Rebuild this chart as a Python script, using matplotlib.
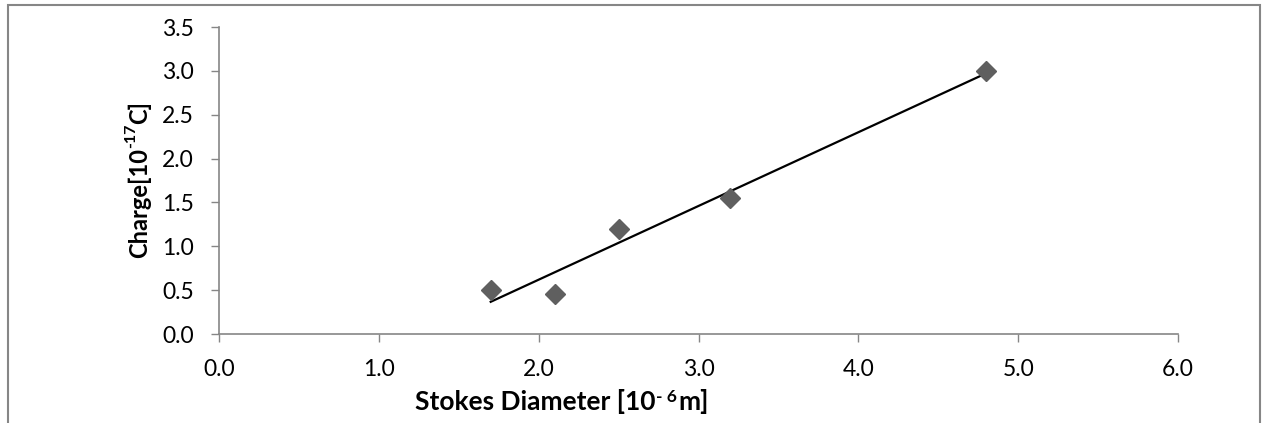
import numpy as np
import matplotlib.pyplot as plt
from matplotlib.patches import Rectangle

# data
diameter = [1.7, 2.1, 2.5, 3.2, 4.8]      # Stokes diameter [1e-6 m]
charge = [0.50, 0.46, 1.20, 1.55, 3.00]   # charge [1e-17 C]
x_ticks = [0.0, 1.0, 2.0, 3.0, 4.0, 5.0, 6.0]
y_ticks = [0.0, 0.5, 1.0, 1.5, 2.0, 2.5, 3.0, 3.5]

plt.rcParams['font.family'] = ['Lato', 'DejaVu Sans']

W, H = 1262, 423
fig = plt.figure(figsize=(W / 100, H / 100), dpi=100)
ax = fig.add_axes([219 / W, 1 - 334 / H, (1178 - 219) / W, (334 - 27) / H])

# linear trendline
k, b = np.polyfit(diameter, charge, 1)
xs = np.array([min(diameter), max(diameter)])
ax.plot(xs, k * xs + b, color='black', lw=1.6, zorder=2)

ax.plot(diameter, charge, linestyle='none', marker='D', ms=10.5,
        color='#5f5f5f', zorder=3)

ax.set_xlim(0, 6)
ax.set_ylim(0, 3.5)
ax.set_xticks(x_ticks)
ax.set_yticks(y_ticks)
ax.set_xticklabels([f'{v:.1f}' for v in x_ticks])
ax.set_yticklabels([f'{v:.1f}' for v in y_ticks])
ax.tick_params(direction='out', length=6, width=1, color='#868686',
               labelsize=16.5, pad=12, labelcolor='black')
for s in ['top', 'right']:
    ax.spines[s].set_visible(False)
for s in ['left', 'bottom']:
    ax.spines[s].set_color('#868686')
    ax.spines[s].set_linewidth(1.2)

# x label: Stokes Diameter [10^- 6 m]
t1 = fig.text(415 / W, 1 - 410 / H, 'Stokes Diameter [10', ha='left',
              va='baseline', fontsize=19, fontweight='bold')
t2 = ax.annotate('- 6', xy=(1, 0), xycoords=(t1, t1), xytext=(1, 9),
                 textcoords='offset pixels', ha='left', va='bottom',
                 fontsize=12.5, fontweight='bold', annotation_clip=False)
ax.annotate('m]', xy=(1, 0), xycoords=(t2, t1), xytext=(1, 0),
            textcoords='offset pixels', ha='left', va='bottom',
            fontsize=19, fontweight='bold', annotation_clip=False)

# y label: Charge[10^-17 C]
u1 = fig.text(139 / W, 1 - 258 / H, 'Charge[10', rotation=90, ha='center',
              va='bottom', fontsize=17, fontweight='bold')
u2 = ax.annotate('-17', xy=(0, 1), xycoords=(u1, u1), xytext=(-3, 0),
                 textcoords='offset pixels', rotation=90, ha='left',
                 va='bottom', fontsize=11.5, fontweight='bold',
                 annotation_clip=False)
ax.annotate('C]', xy=(0, 1), xycoords=(u1, u2), xytext=(0, 0),
            textcoords='offset pixels', rotation=90, ha='left', va='bottom',
            fontsize=17, fontweight='bold', annotation_clip=False)

# outer chart border
fig.patches.append(Rectangle((8 / W, -0.05), (1260 - 8) / W, 1.05 - 5 / H,
                             transform=fig.transFigure, fill=False,
                             edgecolor='#868686', lw=1.5))

fig.savefig('out.png', dpi=100)
